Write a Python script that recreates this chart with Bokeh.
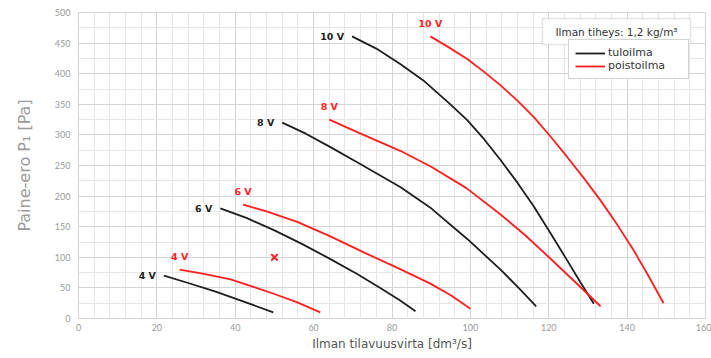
from bokeh.plotting import figure
from bokeh.models import (Legend, LegendItem, Label, SingleIntervalTicker, Range1d,
                          BoxAnnotation)
from bokeh.core.properties import value
from bokeh.embed import file_html
from bokeh.resources import INLINE

FONT = "DejaVu Sans"
TICK_FONT = "Lato"

# ---- data ----
voltage_labels = ["4 V", "6 V", "8 V", "10 V"]

# tuloilma (black)
tulo_4v_x = [21.8, 28, 35, 42, 49.7]
tulo_4v_y = [70, 58, 44, 28, 10]
tulo_6v_x = [36.2, 43, 50, 57, 64.3, 71, 77, 82, 86]
tulo_6v_y = [180, 164, 144, 122, 97, 73, 50, 30, 12]
tulo_8v_x = [52, 58, 64.3, 72, 82.1, 90, 99.2, 107.7, 112, 116.8]
tulo_8v_y = [320, 302, 280, 252, 215, 180, 130, 80, 52, 20]
tulo_10v_x = [69.8, 76, 82.1, 88, 94.9, 99.2, 103.5, 107.7, 112, 116.2, 120.5, 124.7, 128, 131.5]
tulo_10v_y = [461, 441, 416, 389, 350, 324, 293, 259, 222, 183, 139, 95, 60, 24]

# poistoilma (red)
poisto_4v_x = [25.8, 32, 38.8, 45, 50, 56, 61.7]
poisto_4v_y = [80, 73, 64, 51, 40, 26, 10]
poisto_6v_x = [42, 48, 55.8, 64, 72.8, 81, 89.8, 95, 100]
poisto_6v_y = [186, 175, 158, 135, 108, 84, 57, 38, 16]
poisto_8v_x = [64, 72, 82.1, 90, 99, 107.7, 114, 120.4, 127, 133.2]
poisto_8v_y = [325, 302, 274, 248, 213, 170, 136, 98, 58, 20]
poisto_10v_x = [89.8, 94.5, 99.2, 103.5, 107.7, 112, 116.2, 120.5, 124.7, 129, 133.2, 137.5, 141.7, 145.5, 149.3]
poisto_10v_y = [461, 443, 424, 403, 381, 356, 329, 297, 264, 229, 193, 153, 111, 69, 25]

marker_x = [50]
marker_y = [100]

tulo_x = [tulo_4v_x, tulo_6v_x, tulo_8v_x, tulo_10v_x]
tulo_y = [tulo_4v_y, tulo_6v_y, tulo_8v_y, tulo_10v_y]
poisto_x = [poisto_4v_x, poisto_6v_x, poisto_8v_x, poisto_10v_x]
poisto_y = [poisto_4v_y, poisto_6v_y, poisto_8v_y, poisto_10v_y]

BLACK = "#1e1e1e"
RED = "#ff1e1e"

p = figure(width=711, height=358, x_range=Range1d(0, 160), y_range=Range1d(0, 500),
           output_backend="svg", toolbar_location=None,
           min_border_left=78, min_border_right=6, min_border_top=12, min_border_bottom=40)

p.outline_line_color = "#d4d4d4"
p.background_fill_color = "white"

p.xaxis.ticker = SingleIntervalTicker(interval=20, num_minor_ticks=5)
p.yaxis.ticker = SingleIntervalTicker(interval=50, num_minor_ticks=2)
p.xgrid.grid_line_color = "#d4d4d4"
p.ygrid.grid_line_color = "#d4d4d4"
p.xgrid.minor_grid_line_color = "#e6e6e6"
p.ygrid.minor_grid_line_color = "#e6e6e6"

for ax in (p.xaxis[0], p.yaxis[0]):
    ax.axis_line_color = None
    ax.major_tick_line_color = None
    ax.minor_tick_line_color = None
    ax.major_tick_out = 0
    ax.minor_tick_out = 0
    ax.major_label_text_color = "#9a9a9a"
    ax.major_label_text_font_size = "9px"
    ax.major_label_text_font = TICK_FONT
    ax.axis_label_text_font = FONT
    ax.axis_label_text_font_style = "normal"

p.xaxis.axis_label = "Ilman tilavuusvirta [dm³/s]"
p.xaxis.axis_label_text_font_size = "12px"
p.xaxis.axis_label_text_color = "#555555"
p.xaxis.axis_label_standoff = 3
p.xaxis.major_label_standoff = 5

p.yaxis.axis_label = "Paine-ero P₁ [Pa]"
p.yaxis.axis_label_text_font_size = "16px"
p.yaxis.axis_label_text_color = "#9a9a9a"
p.yaxis.axis_label_standoff = 18
p.yaxis.major_label_standoff = 8

r_black = None
r_red = None
for xs, ys in zip(tulo_x, tulo_y):
    r_black = p.line(xs, ys, line_color=BLACK, line_width=1.8)
for xs, ys in zip(poisto_x, poisto_y):
    r_red = p.line(xs, ys, line_color=RED, line_width=1.8)

p.text(x=[xs[0] for xs in tulo_x], y=[ys[0] for ys in tulo_y], text=voltage_labels,
       text_align="right", text_baseline="middle", x_offset=-8,
       text_font=value(FONT), text_font_size="9.5px", text_font_style="bold",
       text_color=BLACK)
p.text(x=[xs[0] for xs in poisto_x], y=[ys[0] for ys in poisto_y], text=voltage_labels,
       text_align="center", text_baseline="middle", y_offset=-13,
       text_font=value(FONT), text_font_size="9.5px", text_font_style="bold",
       text_color=RED)

p.scatter(marker_x, marker_y, marker="x", size=9, line_color=RED, line_width=2)

# density info box (screen units relative to the frame)
box = BoxAnnotation(left=464, right=612, bottom=274, top=300,
                    left_units="screen", right_units="screen",
                    bottom_units="screen", top_units="screen",
                    fill_color="white", fill_alpha=1.0,
                    line_color="#aaaaaa", line_width=1.5)
p.add_layout(box)
p.add_layout(Label(x=538, y=287, x_units="screen", y_units="screen",
                   text="Ilman tiheys: 1,2 kg/m³", text_align="center",
                   text_baseline="middle", text_font=FONT, text_font_size="10.5px",
                   text_color="#333333"))

legend = Legend(items=[LegendItem(label="tuloilma", renderers=[r_black]),
                       LegendItem(label="poistoilma", renderers=[r_red])],
                location=(490, 239))
legend.border_line_color = "#aaaaaa"
legend.border_line_width = 1.5
legend.label_text_font = FONT
legend.label_text_font_size = "11px"
legend.label_text_color = "#333333"
legend.glyph_width = 30
legend.glyph_height = 12
legend.label_height = 12
legend.label_width = 74
legend.spacing = 0
legend.padding = 6
legend.margin = 0
legend.label_standoff = 3
p.add_layout(legend)

open("out.html", "w").write(file_html(p, INLINE))
